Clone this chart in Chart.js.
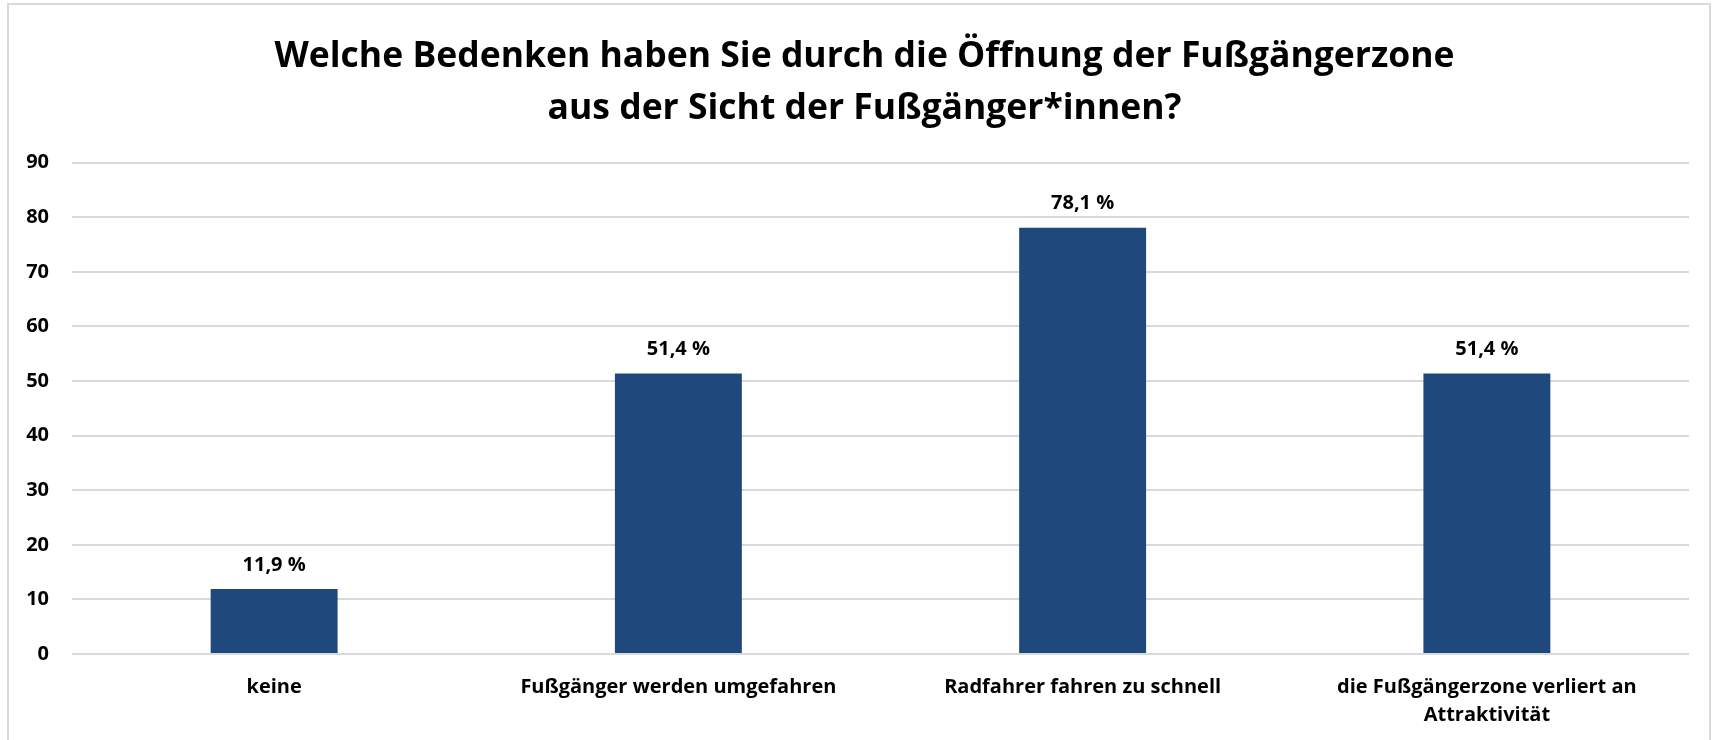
<!DOCTYPE html>
<html>
<head>
<meta charset="utf-8">
<script src="https://cdn.jsdelivr.net/npm/chart.js@4/dist/chart.umd.min.js"></script>
<style>
  html, body { margin: 0; padding: 0; background: #ffffff; }
  #wrap { position: relative; width: 1719px; height: 740px; }
  #frame { position: absolute; left: 7px; top: 3px; width: 1704px; height: 760px; border: 2px solid #d9d9d9; box-sizing: border-box; pointer-events: none; }
  canvas { display: block; }
</style>
</head>
<body>
<div id="wrap">
  <canvas id="c" width="1719" height="740"></canvas>
  <div id="frame"></div>
</div>
<script>
const titleLines = ["Welche Bedenken haben Sie durch die Öffnung der Fußgängerzone", "aus der Sicht der Fußgänger*innen?"];
const categories = [
  "keine",
  "Fußgänger werden umgefahren",
  "Radfahrer fahren zu schnell",
  ["die Fußgängerzone verliert an", "Attraktivität"]
];
const values = [11.9, 51.4, 78.1, 51.4];
const yTicks = [0, 10, 20, 30, 40, 50, 60, 70, 80, 90];

const FONT = "'Open Sans', Lato, sans-serif";
const barColor = "#1F497D";
const gridColor = "#d9d9d9";

const valueLabels = {
  id: "valueLabels",
  afterDatasetsDraw(chart) {
    const ctx = chart.ctx;
    const meta = chart.getDatasetMeta(0);
    ctx.save();
    ctx.font = "bold 20px " + FONT;
    ctx.fillStyle = "#000000";
    ctx.textAlign = "center";
    ctx.textBaseline = "middle";
    meta.data.forEach((bar, i) => {
      const txt = values[i].toFixed(1).replace(".", ",") + " %";
      ctx.fillText(txt, bar.x, bar.y - 24);
    });
    ctx.restore();
  }
};

new Chart(document.getElementById("c"), {
  type: "bar",
  data: {
    labels: categories,
    datasets: [{
      data: values,
      backgroundColor: barColor,
      borderWidth: 0,
      categoryPercentage: 1.0,
      barPercentage: 0.314,
      yAxisID: "y"
    }]
  },
  options: {
    responsive: false,
    animation: false,
    layout: { padding: { left: 10, right: 0, top: 0, bottom: 0 } },
    plugins: {
      legend: { display: false },
      tooltip: { enabled: false },
      title: {
        display: true,
        text: titleLines,
        color: "#000000",
        font: { family: FONT, size: 35.5, weight: "bold", lineHeight: 1.46 },
        padding: { top: 31, bottom: 28 }
      }
    },
    scales: {
      x: {
        afterFit(scale) { scale.height = 86; },
        grid: { display: false, drawTicks: false },
        border: { display: false },
        ticks: {
          color: "#000000",
          font: { family: FONT, size: 20, weight: "bold", lineHeight: 1.4 },
          padding: 19,
          maxRotation: 0,
          autoSkip: false
        }
      },
      y: {
        min: 0,
        max: 90,
        afterBuildTicks(scale) { scale.ticks = yTicks.map(v => ({ value: v })); },
        afterFit(scale) { scale.width = 62; },
        grid: { color: gridColor, lineWidth: 2, drawTicks: false },
        border: { display: false },
        ticks: {
          color: "#000000",
          font: { family: FONT, size: 20, weight: "bold" },
          padding: 23
        }
      },
      yRight: {
        position: "right",
        min: 0,
        max: 90,
        afterFit(scale) { scale.width = 30; },
        grid: { display: false, drawTicks: false },
        border: { display: false },
        ticks: { display: false }
      }
    }
  },
  plugins: [valueLabels]
});
</script>
</body>
</html>
